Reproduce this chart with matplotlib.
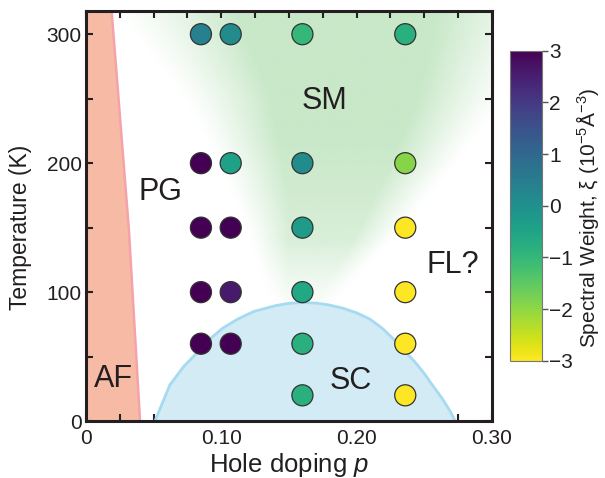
import numpy as np
import matplotlib
matplotlib.use("Agg")
import matplotlib.pyplot as plt
from matplotlib.ticker import MultipleLocator

plt.rcParams['font.family'] = ['Liberation Sans', 'DejaVu Sans']
plt.rcParams['mathtext.fontset'] = 'custom'
plt.rcParams['mathtext.rm'] = 'Liberation Sans'
plt.rcParams['mathtext.it'] = 'Liberation Sans:italic'
plt.rcParams['mathtext.default'] = 'regular'

# ---- data ----
dopings_a = [0.085, 0.085, 0.085, 0.085, 0.085]
temps_a = [300, 200, 150, 100, 60]
weight_a = [0.4, 3.0, 3.0, 3.0, 3.0]

dopings_b = [0.107, 0.107, 0.107, 0.107, 0.107]
temps_b = [300, 200, 150, 100, 60]
weight_b = [0.1, -0.4, 3.0, 2.6, 3.0]

dopings_c = [0.160, 0.160, 0.160, 0.160, 0.160, 0.160]
temps_c = [300, 200, 150, 100, 60, 20]
weight_c = [-1.0, 0.1, -0.3, -0.6, -0.8, -0.8]

dopings_d = [0.236, 0.236, 0.236, 0.236, 0.236, 0.236]
temps_d = [300, 200, 150, 100, 60, 20]
weight_d = [-0.8, -1.9, -3.0, -3.0, -3.0, -3.0]

# AF boundary (doping vs temperature)
af_T = [318, 148, 0]
af_p = [0.019, 0.0318, 0.040]

# SC dome edge
sc_p = [0.051, 0.062, 0.072, 0.083, 0.092, 0.101, 0.112, 0.124, 0.140, 0.150, 0.160,
        0.170, 0.180, 0.190, 0.200, 0.210, 0.219, 0.227, 0.235, 0.243, 0.250, 0.256, 0.263, 0.269, 0.273]
sc_T = [0, 28, 42, 54, 64, 72, 79, 85, 89.5, 91.3, 92,
        91.5, 90, 87.5, 84, 79, 72, 64, 55, 46, 37, 28, 18, 8, 0]

# strange-metal fan boundaries
sm_T = [85, 100, 150, 200, 250, 300, 320]
sm_left = [0.142, 0.132, 0.118, 0.097, 0.072, 0.035, 0.02]
sm_right = [0.180, 0.192, 0.235, 0.275, 0.310, 0.340, 0.35]

xticks = [0, 0.10, 0.20, 0.30]
xticklabels = ['0', '0.10', '0.20', '0.30']
yticks = [0, 100, 200, 300]
cbar_ticks = [3, 2, 1, 0, -1, -2, -3]

region_labels = ['AF', 'PG', 'SM', 'SC', 'FL?']
region_p = [0.020, 0.055, 0.176, 0.196, 0.271]
region_T = [33, 178, 248, 31, 121]

# ---- figure ----
fig = plt.figure(figsize=(6.05, 4.78), dpi=100)
ax = fig.add_axes([0.142, 0.119, 0.671, 0.858])
xmax, ymax = 0.30, 318
ax.set_xlim(0, xmax)
ax.set_ylim(0, ymax)

# SM shading
pp = np.linspace(0, xmax, 400)
TT = np.linspace(0, ymax, 400)
P, Tg = np.meshgrid(pp, TT)
L = np.interp(TT, sm_T, sm_left)[:, None]
R = np.interp(TT, sm_T, sm_right)[:, None]
c = (L + R) / 2
w = (R - L) / 2
d = np.abs(P - c)
fade = 0.55 * w
alpha = np.clip((w - d) / fade, 0, 1) ** 1.2
ramp = np.clip((Tg - 80) / 60, 0, 1)
alpha *= ramp * (0.55 + 0.45 * np.clip((Tg - 100) / 120, 0, 1))
alpha = np.clip(alpha, 0, 1)
img = np.zeros(P.shape + (4,))
img[..., 0] = 200 / 255
img[..., 1] = 232 / 255
img[..., 2] = 200 / 255
img[..., 3] = alpha
ax.imshow(img, extent=[0, xmax, 0, ymax], origin='lower', aspect='auto', zorder=0, interpolation='bilinear')

# AF region
ax.fill_betweenx(af_T, 0, af_p, color='#f7bba5', lw=0, zorder=1)
ax.plot(af_p, af_T, color='#f5a3ab', lw=1.8, zorder=1.5)

# SC dome
ax.fill(sc_p, sc_T, color='#d3ebf5', lw=0, zorder=2)
ax.plot(sc_p, sc_T, color='#a6daf1', lw=2, zorder=2.5, solid_capstyle='round')

# points
cmap = 'viridis_r'
for px, py, pv in [(dopings_a, temps_a, weight_a), (dopings_b, temps_b, weight_b),
                   (dopings_c, temps_c, weight_c), (dopings_d, temps_d, weight_d)]:
    sc = ax.scatter(px, py, c=pv, cmap=cmap, vmin=-3, vmax=3, s=230,
                    edgecolors='#333333', linewidths=0.9, zorder=5, clip_on=False)

for lab, lp, lt in zip(region_labels, region_p, region_T):
    ax.text(lp, lt, lab, fontsize=22, ha='center', va='center', color='#231f20', zorder=6)

ax.set_xticks(xticks)
ax.set_xticklabels(xticklabels)
ax.xaxis.set_minor_locator(MultipleLocator(0.025))
ax.set_yticks(yticks)
ax.yaxis.set_minor_locator(MultipleLocator(50))
ax.tick_params(which='both', direction='in', top=True, right=True, length=5, width=1.5,
               color='#231f20', labelsize=15, labelcolor='#231f20')
ax.tick_params(axis='x', pad=6)
ax.tick_params(axis='y', pad=3)
for s in ax.spines.values():
    s.set_linewidth(2.2)
    s.set_color('#231f20')
    s.set_zorder(7)

ax.set_xlabel('Hole doping $\\mathit{p}$', fontsize=18.5, color='#231f20', labelpad=2)
ax.set_ylabel('Temperature (K)', fontsize=16.5, color='#231f20')
ax.yaxis.set_label_coords(-0.133, 0.473)

cax = fig.add_axes([0.843, 0.245, 0.053, 0.649])
cb = fig.colorbar(sc, cax=cax)
cb.set_ticks(cbar_ticks)
cb.ax.tick_params(labelsize=15, length=4, width=1, color='#555555', labelcolor='#231f20', pad=1)
cb.outline.set_linewidth(0.8)
cb.outline.set_edgecolor('#777777')
cb.set_label('Spectral Weight, ξ (10$^{-5}$Å$^{-3}$)', fontsize=15, color='#231f20')
cb.ax.yaxis.set_label_coords(2.0, 0.46)

fig.savefig('out.png', dpi=100)
